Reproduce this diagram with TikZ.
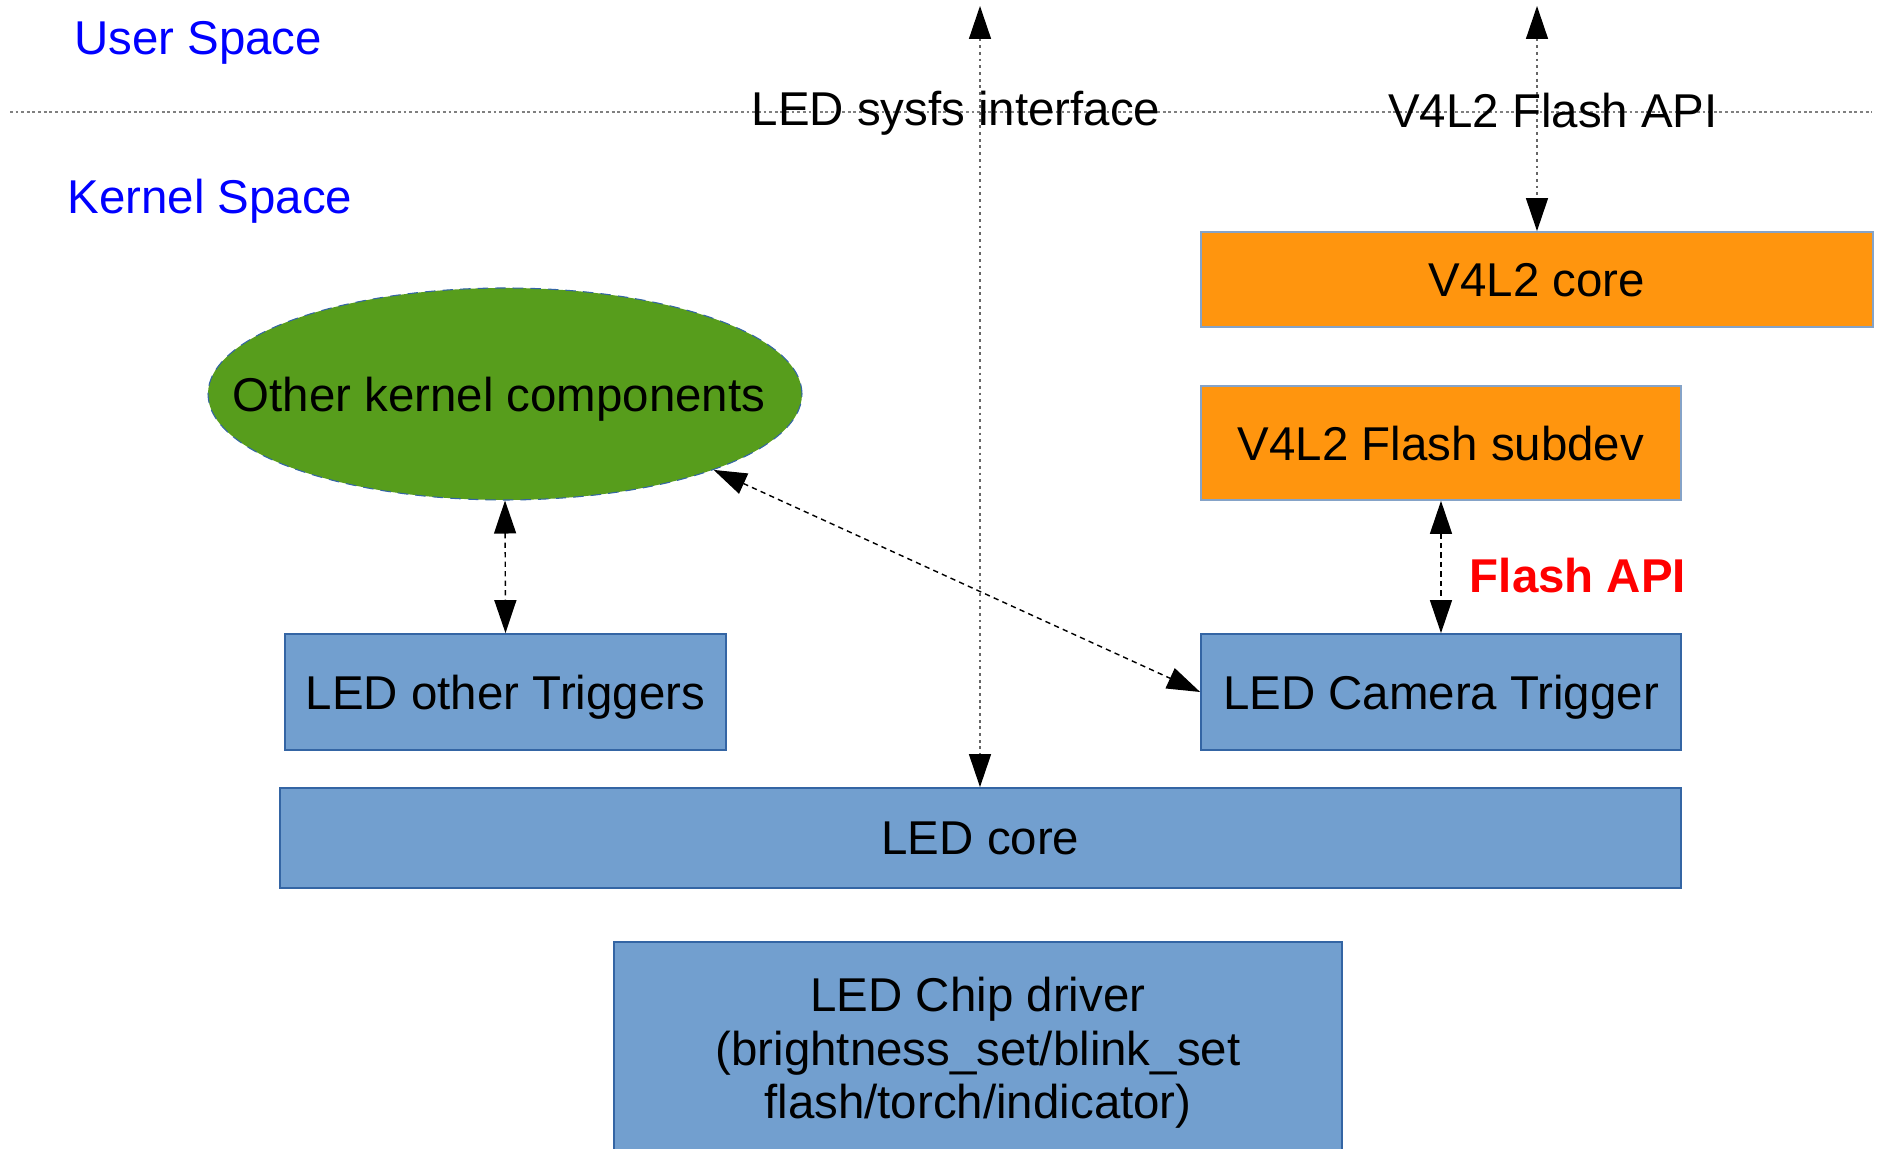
\documentclass[tikz,border=0pt]{standalone}
\usepackage{fontspec}
\setmainfont{Liberation Sans}
\usetikzlibrary{arrows.meta,shapes.geometric}
\definecolor{ledblue}{HTML}{729FCF}
\definecolor{ledborder}{HTML}{3465A4}
\definecolor{v4lorange}{HTML}{FF950E}
\definecolor{kerngreen}{HTML}{579D1C}
\definecolor{spaceblue}{HTML}{0000FF}
\definecolor{apired}{HTML}{FF0000}

\begin{document}
\begin{tikzpicture}[
  font=\fontsize{13.5}{15.2}\selectfont,
  every node/.append style={text depth=0pt},
  bluebox/.style={draw=ledborder, fill=ledblue, line width=0.5pt, inner sep=0pt, align=center},
  orangebox/.style={draw=ledborder!60, fill=v4lorange, line width=0.5pt, inner sep=0pt, align=center},
  link/.style={line width=0.4pt, dash pattern=on 1.5pt off 1.2pt,
    {Triangle[length=3.3mm,width=2.2mm,color=black]}-{Triangle[length=3.3mm,width=2.2mm,color=black]}},
  userlink/.style={link, draw=gray!80!black, dash pattern=on 0.8pt off 1.1pt}
]
\useasboundingbox (0,0) rectangle (18.84,11.49);
\draw[gray, line width=0.5pt, dash pattern=on 0.8pt off 0.8pt] (0.10,10.37) -- (18.72,10.37);
\node[spaceblue] (user) at (1.98,11.11) {User Space};
\node[spaceblue] (kernel) at (2.10,9.53) {Kernel Space};

% V4L2 side
\node[orangebox, minimum width=6.72cm, minimum height=0.95cm] (v4lcore) at (15.37,8.695) {V4L2 core};
\node[orangebox, minimum width=4.80cm, minimum height=1.14cm] (subdev) at (14.41,7.06) {V4L2 Flash subdev};
\node[bluebox, minimum width=4.80cm, minimum height=1.16cm] (camtrig) at (14.41,4.57) {LED Camera Trigger};

% LED side
\node[ellipse, draw=ledborder, fill=kerngreen, line width=0.3pt, densely dashed,
  minimum width=5.94cm, minimum height=2.12cm, inner sep=0pt] (other) at (5.05,7.55)
  {\makebox[0pt]{\hspace*{-0.12cm}Other kernel components}};
\node[bluebox, minimum width=4.41cm, minimum height=1.16cm] (othtrig) at (5.055,4.57) {LED other Triggers};
\node[bluebox, minimum width=14.01cm, minimum height=1.00cm] (ledcore) at (9.805,3.11) {LED core};
\node[bluebox, minimum width=7.28cm, minimum height=2.12cm] (chip) at (9.78,1.01)
  {LED Chip driver\\(brightness\_set/blink\_set\\flash/torch/indicator)};

% interfaces
\coordinate (sysfstop) at (9.80,11.43);
\coordinate (apitop) at (15.37,11.43);
\draw[userlink] (sysfstop) -- (ledcore.north -| sysfstop);
\draw[userlink] (apitop) -- (v4lcore.north);
\draw[link] (subdev.south) -- (camtrig.north);
\draw[link] (other.south) -- (othtrig.north);
\draw[link] (other.-20) -- (camtrig.west);

\node (sysfs) at (9.56,10.41) {LED sysfs interface};
\node (v4lapi) at (15.53,10.39) {V4L2 Flash API};
\node[apired, font=\fontsize{13.5}{15.2}\selectfont\bfseries] (flashapi) at (15.78,5.74) {Flash API};
\end{tikzpicture}
\end{document}
